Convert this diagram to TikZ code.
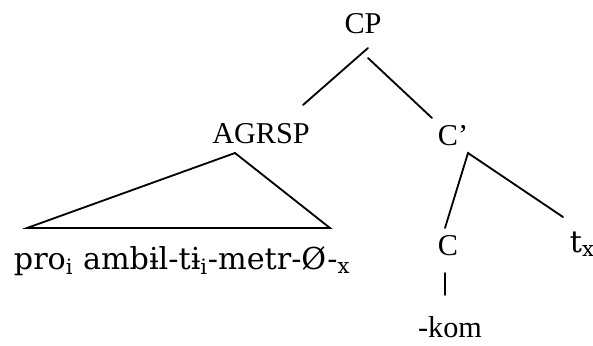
\documentclass[tikz,border=0pt]{standalone}
\usepackage{fontspec}
\setmainfont{Liberation Serif}
\newfontfamily\ipafont{DejaVu Serif}
\usetikzlibrary{calc}

\begin{document}
\begin{tikzpicture}[x=0.025cm, y=-0.025cm, line width=1.3pt, line cap=round,
  cat/.style={inner sep=0pt, anchor=base, font=\fontsize{21.5}{25}\selectfont},
  word/.style={cat, anchor=base west, font=\ipafont\fontsize{21.5}{25}\selectfont},
  branch/.style={line width=1.3pt, black}]
  \useasboundingbox (0,0) rectangle (593,345);
  % category labels
  \node[cat] (cp) at (363,33) {CP};
  \node[cat] (agrsp) at (261,143) {AGRSP};
  \node[cat] (cbar) at (453,145) {C’};
  \node[cat] (c) at (448,255) {C};
  \node[word] (tx) at (569,252) {t\textsubscript{x}};
  \node[cat] (kom) at (450,337) {-kom};
  \node[word] (yield) at (13,269)
    {pro\textsubscript{i} ambɨl-tɨ\textsubscript{i}-metr-Ø-\textsubscript{x}};
  % branches
  \draw[branch] ($(cp.base)+(5,15)$) -- ($(agrsp.base)+(42,-38)$);
  \draw[branch] ($(cp.base)+(5,25)$) -- ($(cbar.base)+(-21,-27)$);
  \draw[branch] ($(agrsp.base)+(-26,10)$) -- ($(yield.base west)+(14,-41)$)
    -- ($(yield.base west)+(317,-41)$) -- cycle;
  \draw[branch] ($(c.base)+(-3,-27)$) -- ($(cbar.base)+(15,8)$) -- ($(tx.base west)+(-6,-35)$);
  \draw[branch] ($(c.base)+(-3,18)$) -- ($(c.base)+(-3,40)$);
\end{tikzpicture}
\end{document}
